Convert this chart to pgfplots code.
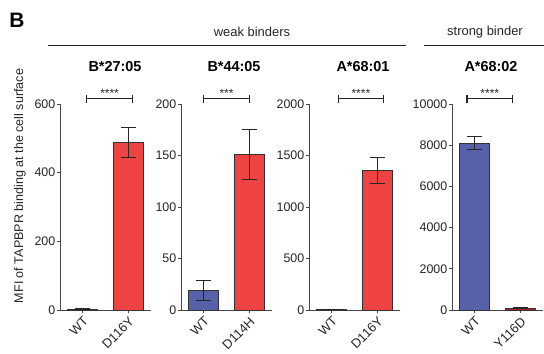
\documentclass[border=0pt]{standalone}
\usepackage{pgfplots}
\pgfplotsset{compat=1.18}
\usepackage{fontspec}
\setmainfont{Liberation Sans}
\definecolor{wtblue}{RGB}{86,97,170}
\definecolor{mutred}{RGB}{238,67,67}
\definecolor{darkred}{RGB}{160,40,40}
\definecolor{axgray}{RGB}{70,70,70}
\pgfplotsset{
  panel/.style={
    scale only axis, width=91bp, height=206bp, anchor=south west,
    axis lines*=left, axis line style={axgray, line width=0.8pt},
    xmin=-0.5, xmax=1.5, ymin=0, clip=false,
    xtick={0,1}, tick align=outside, major tick length=3bp,
    tick style={axgray, line width=0.7pt},
    ticklabel style={font=\fontsize{12.5}{13}\selectfont, text=black!85},
    y tick label style={inner sep=1.5pt},
    x tick label style={rotate=45, anchor=north east, inner sep=2pt, font=\fontsize{13}{13}\selectfont},
    /pgf/number format/assume math mode=true,
    /pgf/number format/1000 sep={},
    scaled y ticks=false,
    error bars/y dir=both, error bars/y explicit,
    error bars/error bar style={line width=1.1pt, black!85},
    error bars/error mark options={rotate=90, mark size=7.5bp, line width=1.1pt, black!85},
  },
  barA/.style={ybar, bar width=30bp, bar shift=0pt, draw=black!80, line width=0.7pt},
}
\newcommand{\sig}[4]{% x1, x2, y, stars
  \draw[line width=1.1pt, black!85] (axis cs:#1,#3) -- (axis cs:#2,#3);
  \draw[line width=1.1pt, black!85] ([yshift=-4bp]axis cs:#1,#3) -- ([yshift=4bp]axis cs:#1,#3);
  \draw[line width=1.1pt, black!85] ([yshift=-4bp]axis cs:#2,#3) -- ([yshift=4bp]axis cs:#2,#3);
  \node[font=\fontsize{12}{12}\selectfont, text=black!85, anchor=south, inner sep=1.5pt] at (axis cs:{(#1+#2)/2},#3) {#4};
}
\begin{document}
\begin{tikzpicture}
\useasboundingbox (0bp,0bp) rectangle (544bp,354bp);
% panel 1
\begin{axis}[panel, at={(60bp,44bp)}, ymax=600, ytick={0,200,400,600},
  xticklabels={WT,D116Y}]
\addplot[barA, fill=wtblue] coordinates {(0,2) +- (0,1)};
\addplot[barA, fill=mutred] coordinates {(1,488) +- (0,43)};
\sig{0.09}{1.09}{615}{****}
\end{axis}
% panel 2
\begin{axis}[panel, at={(181bp,44bp)}, ymax=200, ytick={0,50,100,150,200},
  xticklabels={WT,D114H}]
\addplot[barA, fill=wtblue] coordinates {(0,19) +- (0,10)};
\addplot[barA, fill=mutred] coordinates {(1,151) +- (0,24)};
\sig{0}{1}{205}{***}
\end{axis}
% panel 3
\begin{axis}[panel, at={(309bp,44bp)}, ymax=2000, ytick={0,500,1000,1500,2000},
  xticklabels={WT,D116Y}]
\addplot[barA, fill=wtblue] coordinates {(0,5) +- (0,3)};
\addplot[barA, fill=mutred] coordinates {(1,1355) +- (0,125)};
\sig{0.14}{1.14}{2050}{****}
\end{axis}
% panel 4
\begin{axis}[panel, at={(452bp,44bp)}, ymax=10000, ytick={0,2000,4000,6000,8000,10000},
  xticklabels={WT,Y116D}]
\addplot[barA, fill=wtblue] coordinates {(0,8100) +- (0,310)};
\addplot[barA, fill=darkred] coordinates {(1,100) +- (0,30)};
\sig{-0.17}{0.83}{10250}{****}
\end{axis}
% titles
\begin{scope}[every node/.style={font=\bfseries\fontsize{14.5}{15}\selectfont}]
\node at (115bp,287bp) {B*27:05};
\node at (234bp,287bp) {B*44:05};
\node at (363bp,287bp) {A*68:01};
\node at (491bp,287bp) {A*68:02};
\end{scope}
\node[font=\fontsize{13}{13}\selectfont, text=black!85] at (252bp,322bp) {weak binders};
\node[font=\fontsize{13}{13}\selectfont, text=black!85] at (485bp,322bp) {strong binder};
\draw[line width=0.8pt, black!85] (48bp,309bp) -- (406bp,309bp);
\draw[line width=0.8pt, black!85] (424bp,309bp) -- (544bp,309bp);
\node[font=\bfseries\fontsize{21}{21}\selectfont] at (17bp,334bp) {B};
\node[rotate=90, font=\fontsize{12.6}{13}\selectfont, text=black!85] at (20bp,168bp) {MFI of TAPBPR binding at the cell surface};
\end{tikzpicture}
\end{document}
